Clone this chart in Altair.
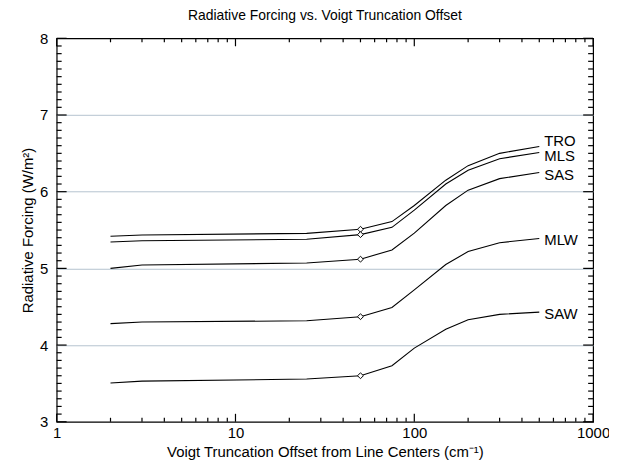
import altair as alt
import pandas as pd

# ---- data ----
offsets = [2, 3, 25, 50, 75, 100, 150, 200, 300, 500]
profiles = ["TRO", "MLS", "SAS", "MLW", "SAW"]
tro = [5.42, 5.435, 5.457, 5.51, 5.61, 5.82, 6.15, 6.34, 6.50, 6.59]
mls = [5.345, 5.36, 5.38, 5.44, 5.535, 5.76, 6.10, 6.28, 6.43, 6.51]
sas = [5.00, 5.045, 5.07, 5.12, 5.24, 5.46, 5.82, 6.02, 6.17, 6.25]
mlw = [4.28, 4.30, 4.317, 4.37, 4.49, 4.72, 5.05, 5.22, 5.335, 5.39]
saw = [3.505, 3.53, 3.557, 3.60, 3.73, 3.96, 4.205, 4.33, 4.40, 4.43]
marker_offset = 50
label_y = [6.66, 6.46, 6.22, 5.37, 4.40]

# axis tick values
x_major = [1, 10, 100, 1000]
x_minor = [m * d for d in [1, 10, 100] for m in range(2, 10)]
y_major = [3, 4, 5, 6, 7, 8]
y_grid = [4, 5, 6, 7]
y_minor = [round(3 + i / 10, 1) for i in range(51) if i % 10 != 0]

series = {"TRO": tro, "MLS": mls, "SAS": sas, "MLW": mlw, "SAW": saw}
rows = []
for p in profiles:
    for xv, yv in zip(offsets, series[p]):
        rows.append({"profile": p, "offset": xv, "rf": yv})
df = pd.DataFrame(rows)
lab = pd.DataFrame({"profile": profiles, "offset": [offsets[-1]] * len(profiles), "rf": label_y})

FONT = "Liberation Sans"
W, H = 540, 386
xscale = alt.Scale(type="log", domain=[1, 1000], nice=False)
yscale = alt.Scale(domain=[3, 8], nice=False, zero=False)

base = alt.Chart(df)

lines = base.mark_line(color="black", strokeWidth=1.1).encode(
    x=alt.X("offset:Q", scale=xscale,
            axis=alt.Axis(orient="bottom", values=x_major, ticks=False, domain=False, grid=False,
                          format="d", labelFlush=False, labelPadding=4,
                          labelFont=FONT, labelFontSize=15, labelColor="black",
                          title="Voigt Truncation Offset from Line Centers (cm\u207b\u00b9)",
                          titleFont=FONT, titleFontSize=15, titleFontWeight="normal",
                          titleColor="black")),
    y=alt.Y("rf:Q", scale=yscale,
            axis=alt.Axis(orient="left", values=y_major, ticks=False, domain=False, grid=False,
                          format="d", labelFlush=False, labelPadding=9,
                          labelFont=FONT, labelFontSize=15, labelColor="black",
                          title="Radiative Forcing (W/m\u00b2)",
                          titleFont=FONT, titleFontSize=15, titleFontWeight="normal",
                          titleColor="black")),
    detail="profile:N",
)

grid = base.mark_point(opacity=0).encode(
    x=alt.X("offset:Q", scale=xscale, axis=None),
    y=alt.Y("rf:Q", scale=yscale,
            axis=alt.Axis(orient="left", values=y_grid, grid=True, gridColor="#b4c3cf",
                          gridWidth=1, ticks=False, labels=False, domain=False, title=None)),
)


def xticks(values, edge, length):
    inner = edge - length if edge > 0 else edge + length
    return alt.Chart(pd.DataFrame({"v": values})).mark_rule(
        color="black", strokeWidth=1.2, opacity=1
    ).encode(
        x=alt.X("v:Q", scale=xscale, axis=None),
        y=alt.value(edge), y2=alt.value(inner),
    )


def yticks(values, edge, length):
    inner = edge - length if edge > 0 else edge + length
    return alt.Chart(pd.DataFrame({"v": values})).mark_rule(
        color="black", strokeWidth=1.2, opacity=1
    ).encode(
        y=alt.Y("v:Q", scale=yscale, axis=None),
        x=alt.value(edge), x2=alt.value(inner),
    )


tick_layers = [
    xticks(x_major, H, 8), xticks(x_minor, H, 4),
    xticks(x_major, 0, 8), xticks(x_minor, 0, 4),
    yticks(y_major, 0, 10), yticks(y_minor, 0, 5),
    yticks(y_major, W, 10), yticks(y_minor, W, 5),
]

points = base.transform_filter(alt.datum.offset == marker_offset).mark_point(
    shape="diamond", filled=True, fill="white", stroke="black", strokeWidth=1, size=35, opacity=1
).encode(
    x=alt.X("offset:Q", scale=xscale, axis=None),
    y=alt.Y("rf:Q", scale=yscale, axis=None),
)

texts = alt.Chart(lab).mark_text(align="left", dx=5, font=FONT, fontSize=15, color="black").encode(
    x=alt.X("offset:Q", scale=xscale, axis=None),
    y=alt.Y("rf:Q", scale=yscale, axis=None),
    text="profile:N",
)

chart = alt.layer(grid, lines, points, texts, *tick_layers).resolve_axis(
    x="independent", y="independent"
).properties(
    width=W,
    height=H,
    autosize=alt.AutoSizeParams(type="none"),
    padding={"left": 49, "top": 29, "right": 16, "bottom": 40},
    title=alt.TitleParams("Radiative Forcing vs. Voigt Truncation Offset", font=FONT,
                          fontSize=14, fontWeight="normal", color="black", offset=8),
).configure_view(stroke="black", strokeWidth=1.2)

chart.save("out.html", embed_options={"renderer": "svg", "actions": False})
